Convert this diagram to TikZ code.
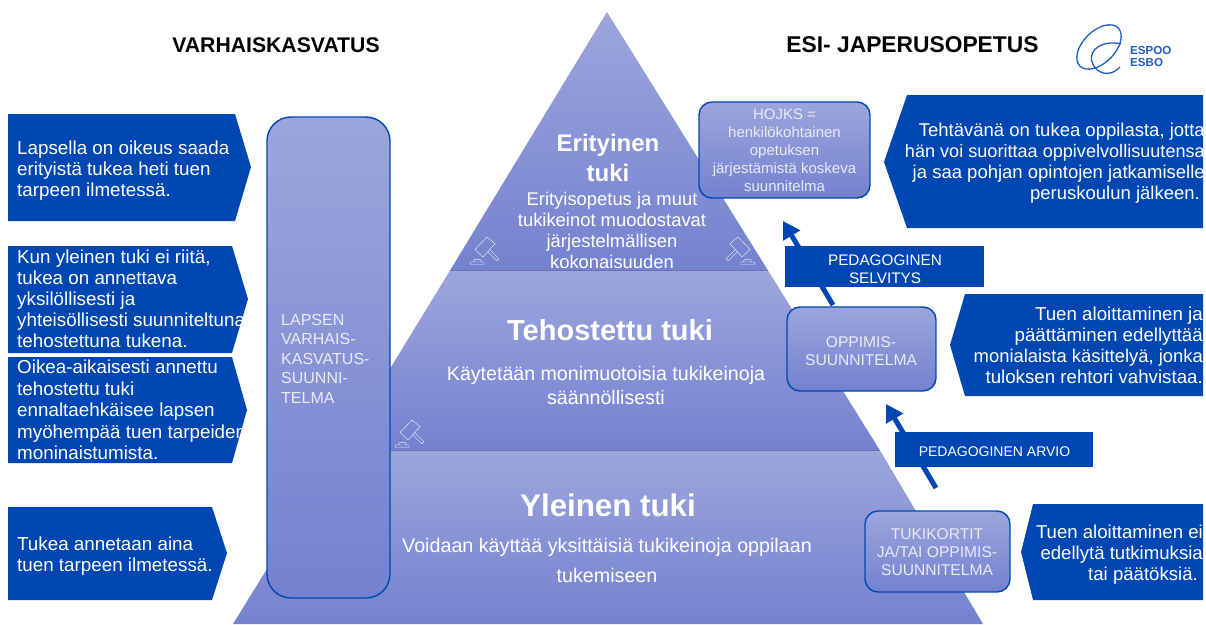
\documentclass[tikz,border=0pt]{standalone}
\usepackage{fontspec}
\setmainfont{Liberation Sans}
\usetikzlibrary{arrows.meta}
\definecolor{bluebox}{HTML}{0047B3}
\definecolor{tiertop}{HTML}{9CA5DC}
\definecolor{tierbot}{HTML}{7482CF}
\definecolor{tierline}{HTML}{6A72A8}
\definecolor{paletext}{HTML}{E8EBF8}
\definecolor{logoblue}{HTML}{1F5CC4}
\newcommand{\fs}[2]{\fontsize{#1}{#2}\selectfont}
\tikzset{
  x=1pt,y=-1pt,
  tier/.style={top color=tiertop,bottom color=tierbot},
  tierrule/.style={draw=tierline,line width=1pt},
  flag/.style={fill=bluebox,draw=none},
  ltext/.style={text=white,align=left,anchor=west,inner sep=0pt,font=\fs{18.8}{21}},
  rtext/.style={text=white,align=right,anchor=east,inner sep=0pt,font=\fs{18.6}{21}},
  ttext/.style={text=white,align=center,inner sep=0pt},
  planbox/.style={draw=bluebox,line width=1.4pt,rounded corners=13pt,top color=tiertop,bottom color=tierbot,inner sep=0pt},
  plantxt/.style={text=paletext,align=center,inner sep=0pt,font=\fs{15.6}{18}},
  labelbox/.style={fill=bluebox,inner sep=0pt},
  flow/.style={draw=bluebox,line width=5pt,-{Triangle[length=17pt,width=19pt]}},
  heading/.style={text=black,inner sep=0pt},
  gavelpic/.pic={
    \draw[paletext,line width=.45pt,line join=round]
      (10,-3.3)--(-2,10)--(-10,2.5)--(2,-10)--cycle
      (4.6,2.5)--(13.8,11.7)--(11.7,13.8)--(2.5,4.6)
      (-14.3,15) rectangle (-1,17.5)
      (-11.7,15)--(-10.5,12.7)--(-4.5,12.7)--(-3.3,15);
  }
}
\begin{document}
\begin{tikzpicture}
\useasboundingbox (0,0) rectangle (1206,624);
% pyramid
\shade[tier] (607,12)--(768,270.5)--(450,270.5)--cycle;
\shade[tier] (450,270.5)--(768,270.5)--(880,450.5)--(340,450.5)--cycle;
\shade[tier] (340,450.5)--(880,450.5)--(983,624)--(233,624)--cycle;
\coordinate (t1l) at (450,270.5); \coordinate (t1r) at (768,270.5);
\coordinate (t2l) at (340,450.5); \coordinate (t2r) at (880,450.5);
\draw[tierrule] (t1l)--(t1r);
\draw[tierrule] (t2l)--(t2r);
\pic at (485,247) {gavelpic};
\pic[xscale=-1] at (740,247) {gavelpic};
\pic at (410,430) {gavelpic};
% side plan
\node[planbox,minimum width=123pt,minimum height=481pt,rounded corners=24pt] (plan) at (328.5,357.5) {};
\node[text=paletext,align=left,anchor=west,inner sep=0pt,font=\fs{16}{19.5}] (plantext) at (281,358.5) {LAPSEN\\VARHAIS-\\KASVATUS-\\SUUNNI-\\TELMA};
% headings
\node[heading,font=\bfseries\fs{21.2}{25}] (hl) at (276,45) {VARHAISKASVATUS};
\node[heading,font=\bfseries\fs{22.8}{25}] (hr) at (912.5,45) {ESI- JAPERUSOPETUS};
% tier texts
\node[ttext,font=\bfseries\fs{24}{30}] (e1) at (608,158) {Erityinen\\tuki};
\node[ttext,font=\fs{18.4}{21}] (e2) at (612,230.5) {Erityisopetus ja muut\\tukikeinot muodostavat\\järjestelmällisen\\kokonaisuuden};
\node[ttext,font=\bfseries\fs{29}{32}] (t1) at (610,330) {Tehostettu tuki};
\node[ttext,font=\fs{19.6}{24}] (t2) at (606,385) {Käytetään monimuotoisia tukikeinoja\\säännöllisesti};
\node[ttext,font=\bfseries\fs{31.3}{36}] (y1) at (608,505) {Yleinen tuki};
\node[ttext,font=\fs{19.7}{30}] (y2) at (607,560) {Voidaan käyttää yksittäisiä tukikeinoja oppilaan\\tukemiseen};
% left flags
\fill[flag] (8,114)--(235,114)--(251,167)--(235,221)--(8,221)--cycle;
\fill[flag] (8,246)--(232,246)--(248,299)--(232,353)--(8,353)--cycle;
\fill[flag] (8,357)--(232,357)--(247,410)--(232,463)--(8,463)--cycle;
\fill[flag] (8,507)--(212,507)--(227,553)--(212,600)--(8,600)--cycle;
\node[ltext] (l1) at (17,171) {Lapsella on oikeus saada\\erityistä tukea heti tuen\\tarpeen ilmetessä.};
\node[ltext] (l2) at (17,299) {Kun yleinen tuki ei riitä,\\tukea on annettava\\yksilöllisesti ja\\yhteisöllisesti suunniteltuna\\tehostettuna tukena.};
\node[ltext,font=\fs{18.8}{21.5}] (l3) at (17,410) {Oikea-aikaisesti annettu\\tehostettu tuki\\ennaltaehkäisee lapsen\\myöhempää tuen tarpeiden\\moninaistumista.};
\node[ltext] (l4) at (17,556.5) {Tukea annetaan aina\\tuen tarpeen ilmetessä.};
% arrows
\coordinate (a1s) at (833,305); \coordinate (a1e) at (783,221);
\coordinate (a2s) at (936,488); \coordinate (a2e) at (886,404);
\draw[flow] (a1s)--(a1e);
\draw[flow] (a2s)--(a2e);
% plan boxes
\node[planbox,minimum width=171pt,minimum height=96pt] (hojks) at (784.5,150) {};
\node[plantxt,font=\fs{15}{18}] (hojkst) at (784.5,150) {HOJKS =\\henkilökohtainen\\opetuksen\\järjestämistä koskeva\\suunnitelma};
\node[planbox,minimum width=149pt,minimum height=84pt] (oppi) at (861.5,349) {};
\node[plantxt] (oppit) at (861,351) {OPPIMIS-\\SUUNNITELMA};
\node[planbox,minimum width=145pt,minimum height=81pt] (tukik) at (937.5,551.5) {};
\node[plantxt] (tukit) at (937,552.5) {TUKIKORTIT\\JA/TAI OPPIMIS-\\SUUNNITELMA};
\node[labelbox,minimum width=199pt,minimum height=41pt] (sel) at (884.5,266.5) {};
\node[text=white,align=center,inner sep=0pt,font=\fs{15.3}{18}] (seltext) at (885,269.5) {PEDAGOGINEN\\SELVITYS};
\node[labelbox,minimum width=198pt,minimum height=35pt] (arv) at (994,449.5) {};
\node[text=white,inner sep=0pt,font=\fs{14}{18}] (arvtext) at (994.5,451.5) {PEDAGOGINEN ARVIO};
% right flags
\begin{scope}
\clip (0,0) rectangle (1203,624);
\fill[flag] (1203,95)--(907,95)--(884,162)--(907,228)--(1203,228)--cycle;
\fill[flag] (1203,294)--(965,294)--(950,345)--(965,396)--(1203,396)--cycle;
\fill[flag] (1203,504)--(1033,504)--(1021,552)--(1033,600)--(1203,600)--cycle;
\node[rtext,font=\fs{18.5}{21}] (r1) at (1205,163.5) {Tehtävänä on tukea oppilasta, jotta\\{\fs{18.1}{21}hän voi suorittaa oppivelvollisuutensa}\\ja saa pohjan opintojen jatkamiselle\\peruskoulun jälkeen.\hspace*{5pt}};
\node[rtext,font=\fs{18.7}{21}] (r2) at (1203,345.5) {Tuen aloittaminen ja\\päättäminen edellyttää\hspace*{2pt}\\{\fs{18.4}{21}monialaista käsittelyä, jonka}\\tuloksen rehtori vahvistaa.};
\node[rtext] (r3) at (1203,555) {Tuen aloittaminen ei\\edellytä tutkimuksia\hspace*{5pt}\\tai päätöksiä.\hspace*{5pt}};
\end{scope}
% logo
\draw[logoblue,line width=1.3pt,rotate around={45:(1099,47)}] (1099,47) ellipse [x radius=27,y radius=16];
\draw[logoblue,line width=1.3pt] (1120,67) .. controls (1110,78) and (1096,74) .. (1092,62) .. controls (1088,48) and (1105,40) .. (1121,44);
\node[text=logoblue,align=left,anchor=west,inner sep=0pt,font=\bfseries\fs{11.6}{11.5}] (logo) at (1130,56.5) {ESPOO\\ESBO};
\end{tikzpicture}
\end{document}
